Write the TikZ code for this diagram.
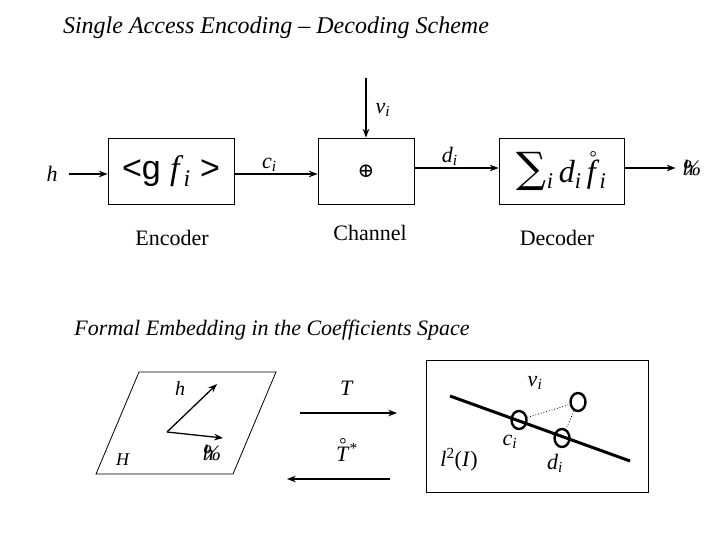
\documentclass[tikz,border=0pt]{standalone}
\usepackage{fontspec}
\setmainfont{Liberation Serif}
\setsansfont{Liberation Sans}
\newfontfamily\symfont{DejaVu Serif}
\usetikzlibrary{positioning,arrows.meta,shapes.geometric}

\newcommand{\sub}[1]{\textsubscript{\textit{#1}}}
\newcommand{\ringover}[1]{\leavevmode\vbox{\offinterlineskip\halign{\hfil##\hfil\cr
  {\fontsize{18}{18}\selectfont\upshape °}\cr\noalign{\kern-4pt}#1\cr}}}
\newcommand{\hgarb}{\rlap{\textit{h}}\textit{\%}}

\begin{document}
\begin{tikzpicture}[x=1pt, y=-1pt, >=Stealth,
    blockbox/.style={draw, line width=0.8pt, minimum height=66pt, inner sep=0pt},
    flow/.style={->, line width=1.3pt},
    lbl/.style={font=\fontsize{22}{24}\selectfont, inner sep=1pt},
    blocklabel/.style={font=\fontsize{22}{24}\selectfont, inner sep=0pt},
    pointring/.style={draw, ellipse, line width=2.4pt, minimum width=15pt, minimum height=18pt, inner sep=0pt}]
  \useasboundingbox (0,0) rectangle (720,540);

  % titles
  \node[font=\fontsize{24}{26}\selectfont\itshape, inner sep=0pt] (title) at (276,28)
    {Single Access Encoding -- Decoding Scheme};
  \node[font=\fontsize{22}{24}\selectfont\itshape, inner sep=0pt] (title2) at (272,330)
    {Formal Embedding in the Coefficients Space};

  % encoder -- channel -- decoder
  \node[blockbox, minimum width=126pt] (enc) at (171,171)
    {\fontsize{34}{36}\selectfont{\sffamily<g }\textit{f}\sub{i}{\sffamily\ >}};
  \node[blockbox, minimum width=96pt] (chan) at (366,171) {\fontsize{20}{22}\selectfont\symfont ⊕};
  \node[blockbox, minimum width=125pt] (dec) at (561.5,171)
    {\fontsize{32}{34}\selectfont{\symfont\fontsize{42}{42}\selectfont ∑}\sub{i}\,\textit{d}\sub{i}\,\ringover{\textit{f}}\sub{i}};

  \node[lbl] (hin) at (52,174) {\textit{h}};
  \node[lbl] (hout) at (692,168) {\hgarb};
  \coordinate (nutop) at (366,78);

  \draw[flow, shorten <=10pt] (hin.east) -- (hin.east -| enc.west);
  \draw[flow] ([yshift=-3pt]enc.east) -- ([yshift=-3pt]chan.west)
    node[lbl, pos=0.42, above=1pt] (ci) {\textit{c}\sub{i}};
  \draw[flow] (nutop) -- (chan.north);
  \draw[flow] ([yshift=3pt]chan.east) -- ([yshift=3pt]dec.west)
    node[lbl, pos=0.42, above=1pt] (di) {\textit{d}\sub{i}};
  \draw[flow, shorten >=6pt] ([yshift=3pt]dec.east) -- (hout.west);
  \node[lbl] (nu) at (383,110) {\textit{ν}\sub{i}};

  \node[blocklabel] (encl) at (172,238) {Encoder};
  \node[blocklabel] (chanl) at (370,233) {Channel};
  \node[blocklabel] (decl) at (557,238) {Decoder};

  % space H
  \draw[line width=0.8pt] (139,372) -- (276,372) -- (233,474) -- (96,474) -- cycle;
  \coordinate (vo) at (167,432);
  \coordinate (vh) at (217,384);
  \coordinate (vt) at (223,438);
  \draw[flow] (vo) -- (vh);
  \draw[flow] (vo) -- (vt);
  \node[lbl, font=\fontsize{20}{22}\selectfont] (hh) at (180,389) {\textit{h}};
  \node[lbl, font=\fontsize{18}{20}\selectfont] (spH) at (123,460) {\textit{H}};
  \node[lbl] (ht) at (212,453) {\hgarb};

  % maps T and T*
  \coordinate (ta) at (300,413);
  \coordinate (tb) at (397,413);
  \coordinate (sa) at (390,479);
  \coordinate (sb) at (287,479);
  \draw[flow] (ta) -- (tb);
  \draw[flow] (sa) -- (sb);
  \node[font=\fontsize{22}{24}\selectfont, inner sep=0pt] (tl) at (347,388) {\textit{T}};
  \node[font=\fontsize{22}{24}\selectfont, inner sep=0pt] (sl) at (347,450)
    {\ringover{\textit{T}}\textsuperscript{*}};

  % coefficient space
  \draw[line width=0.8pt] (426,360) rectangle (648,492);
  \draw[line width=3pt] (450,396) -- (630,461);
  \node[pointring] (cc) at (519,420) {};
  \node[pointring] (dd) at (562,438) {};
  \node[pointring] (nn) at (578,402) {};
  \draw[dotted, line width=0.8pt] (cc) -- (nn);
  \draw[dotted, line width=0.8pt] (nn) -- (dd);
  \node[lbl] (nul) at (535,383) {\textit{ν}\sub{i}};
  \node[lbl] (cl) at (510,442) {\textit{c}\sub{i}};
  \node[lbl] (dl) at (555,463) {\textit{d}\sub{i}};
  \node[lbl] (l2) at (459,460) {\textit{l}\textsuperscript{2}(\textit{I})};
\end{tikzpicture}
\end{document}
